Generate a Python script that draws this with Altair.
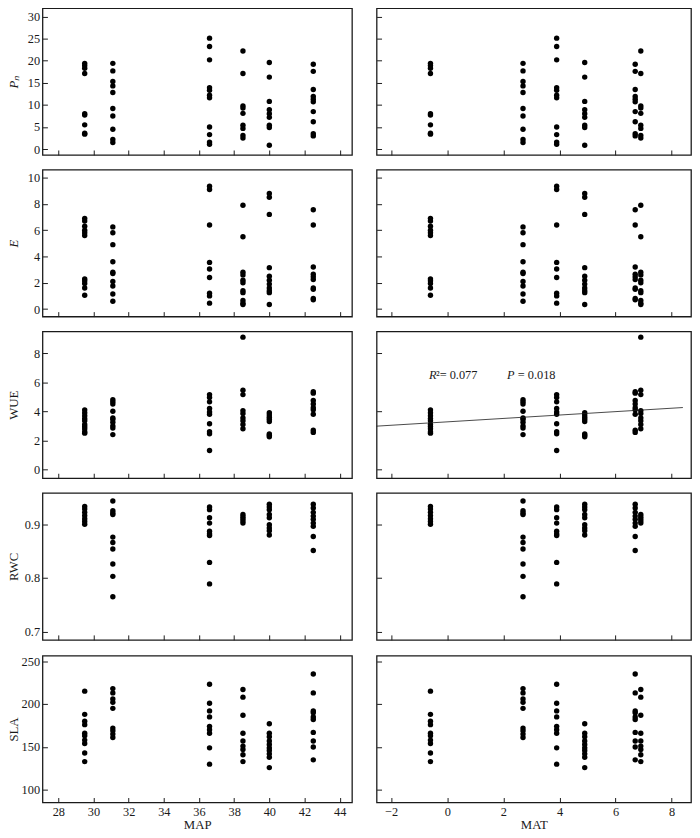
import altair as alt
import pandas as pd

# six sites: mean annual precipitation (MAP) and mean annual temperature (MAT)
site_map = [29.5, 31.1, 36.6, 38.5, 40.0, 42.5]
site_mat = [-0.6, 2.7, 3.9, 6.9, 4.9, 6.7]

pn_values = [
    [19.4, 18.9, 18.3, 17.1, 8.0, 7.7, 5.5, 3.6, 3.4],
    [19.4, 17.7, 15.3, 14.3, 12.8, 9.2, 7.5, 4.5, 2.2, 1.5],
    [25.1, 23.2, 20.2, 13.9, 13.3, 12.2, 11.6, 5.0, 3.3, 1.6, 1.1],
    [22.2, 17.1, 9.8, 9.3, 8.1, 5.4, 4.7, 3.1, 2.5],
    [19.6, 16.3, 10.8, 8.9, 8.0, 7.2, 5.4, 4.9, 0.9],
    [19.2, 17.6, 13.5, 11.9, 11.3, 10.7, 8.5, 6.2, 3.5, 3.0],
]
e_values = [
    [6.9, 6.7, 6.3, 6.0, 5.8, 5.6, 2.3, 2.15, 1.95, 1.6, 1.05],
    [6.25, 5.8, 4.9, 3.6, 2.8, 2.7, 2.1, 1.75, 1.15, 0.6],
    [9.35, 9.1, 6.4, 3.55, 3.05, 2.4, 1.2, 1.0, 0.45],
    [7.9, 5.5, 2.8, 2.6, 2.2, 2.0, 1.4, 1.25, 0.65, 0.45, 0.35],
    [8.8, 8.5, 7.2, 3.15, 2.5, 2.2, 1.9, 1.6, 1.4, 1.25, 0.35],
    [7.55, 6.4, 3.2, 2.65, 2.45, 2.25, 1.6, 1.5, 0.8, 0.7],
]
wue_values = [
    [4.1, 3.9, 3.7, 3.5, 3.35, 3.1, 2.95, 2.8, 2.6, 2.5],
    [4.8, 4.65, 4.5, 4.0, 3.55, 3.45, 3.25, 3.0, 2.85, 2.4],
    [5.15, 4.95, 4.65, 4.2, 3.95, 3.8, 3.15, 2.6, 2.45, 1.3],
    [9.1, 5.45, 5.15, 4.05, 3.85, 3.55, 3.35, 3.1, 2.8],
    [3.9, 3.75, 3.6, 3.45, 3.3, 2.45, 2.35, 2.25],
    [5.35, 5.25, 4.75, 4.5, 4.25, 4.1, 3.8, 2.7, 2.55],
]
rwc_values = [
    [0.933, 0.928, 0.922, 0.916, 0.91, 0.905, 0.9],
    [0.943, 0.925, 0.921, 0.918, 0.876, 0.866, 0.854, 0.826, 0.803, 0.765],
    [0.932, 0.927, 0.912, 0.902, 0.887, 0.882, 0.879, 0.829, 0.789],
    [0.918, 0.914, 0.91, 0.906, 0.902],
    [0.937, 0.932, 0.927, 0.918, 0.912, 0.899, 0.893, 0.888, 0.88],
    [0.937, 0.93, 0.922, 0.915, 0.909, 0.902, 0.896, 0.877, 0.851],
]
sla_values = [
    [215, 188, 180, 176, 166, 163, 158, 154, 143, 133],
    [218, 213, 206, 202, 195, 172, 169, 165, 161],
    [223, 201, 192, 185, 174, 170, 166, 149, 130],
    [217, 208, 187, 166, 157, 151, 147, 141, 133],
    [177, 166, 162, 157, 153, 149, 146, 142, 138, 126],
    [235, 213, 192, 190, 185, 182, 167, 157, 150, 135],
]

# fitted WUE ~ MAT line (end points) and its statistics
reg_mat = [-2.52, 8.4]
reg_wue = [2.98, 4.26]
ann_pos = [-0.65, 6.5]

FONT = "Liberation Serif"
INK = "#1a1a1a"

rows = []
for var, table in [("Pn", pn_values), ("E", e_values), ("WUE", wue_values),
                   ("RWC", rwc_values), ("SLA", sla_values)]:
    for i, vals in enumerate(table):
        for v in vals:
            rows.append({"var": var, "MAP": site_map[i], "MAT": site_mat[i], "value": v})
df = pd.DataFrame(rows)

row_specs = [
    ("Pn", "P\u2099", [-1.3, 31.9], [0, 5, 10, 15, 20, 25, 30], "italic", "d"),
    ("E", "E", [-0.57, 10.6], [0, 2, 4, 6, 8, 10], "italic", "d"),
    ("WUE", "WUE", [-0.6, 9.5], [0, 2, 4, 6, 8], "normal", "d"),
    ("RWC", "RWC", [0.685, 0.958], [0.7, 0.8, 0.9], "normal", ".1f"),
    ("SLA", "SLA", [85.4, 256.4], [100, 150, 200, 250], "normal", "d"),
]
col_specs = [
    ("MAP", [27.1, 44.7], [28, 30, 32, 34, 36, 38, 40, 42, 44], 314),
    ("MAT", [-2.52, 8.69], [-2, 0, 2, 4, 6, 8], 319),
]


def axis_common():
    return dict(tickSize=5, offset=-5, domain=False, grid=False, tickColor=INK,
                tickWidth=1, labelFont=FONT, labelFontSize=12.5, labelColor=INK,
                titleFont=FONT, titleFontSize=13, titleColor=INK,
                titleFontWeight="normal")


panels = []
for r, (var, ttl, ydom, yt, ystyle, fmt) in enumerate(row_specs):
    for c, (xfield, xdom, xt, w) in enumerate(col_specs):
        left = c == 0
        bottom = r == len(row_specs) - 1
        d = df[df["var"] == var]

        xk = axis_common()
        xk.update(values=xt, labelPadding=3, titlePadding=1, format="d")
        if not bottom:
            xk.update(labels=False)
        yk = axis_common()
        yk.update(values=yt, labelPadding=3, format=fmt)
        if left:
            yk.update(titleX=-27, titleFontStyle=ystyle)
        else:
            yk.update(labels=False)

        xenc = alt.X(f"{xfield}:Q", scale=alt.Scale(domain=xdom, nice=False, zero=False),
                     axis=alt.Axis(**xk), title=xfield if bottom else None)
        yenc = alt.Y("value:Q", scale=alt.Scale(domain=ydom, nice=False, zero=False),
                     axis=alt.Axis(**yk), title=ttl if left else None)

        pts = alt.Chart(d).mark_point(shape="circle", size=30, filled=True, color="black",
                                      opacity=1).encode(x=xenc, y=yenc)
        chart = pts
        if var == "WUE" and xfield == "MAT":
            line_df = pd.DataFrame({"MAT": reg_mat, "value": reg_wue})
            line = alt.Chart(line_df).mark_line(color=INK, strokeWidth=0.8).encode(
                x="MAT:Q", y="value:Q")
            ann_df = pd.DataFrame({"MAT": [ann_pos[0]], "value": [ann_pos[1]]})
            pieces = [("R", 0, "italic"), ("\u00b2= 0.077", 7, "normal"),
                      ("P", 79, "italic"), ("= 0.018", 90, "normal")]
            texts = [
                alt.Chart(ann_df).mark_text(text=t, dx=dx, align="left", baseline="middle",
                                            font=FONT, fontSize=12.5, fontStyle=st, color=INK
                                            ).encode(x="MAT:Q", y="value:Q")
                for t, dx, st in pieces
            ]
            chart = alt.layer(pts, line, *texts)
        panels.append(chart.properties(width=w, height=149))

chart = alt.concat(*panels, columns=2, spacing={"row": 12, "column": 21}).properties(
    padding={"left": -1, "top": -7, "right": 0, "bottom": 0}
).configure_view(stroke=INK, strokeWidth=1.3)

chart.save("out.html", embed_options={"renderer": "svg", "actions": False})
